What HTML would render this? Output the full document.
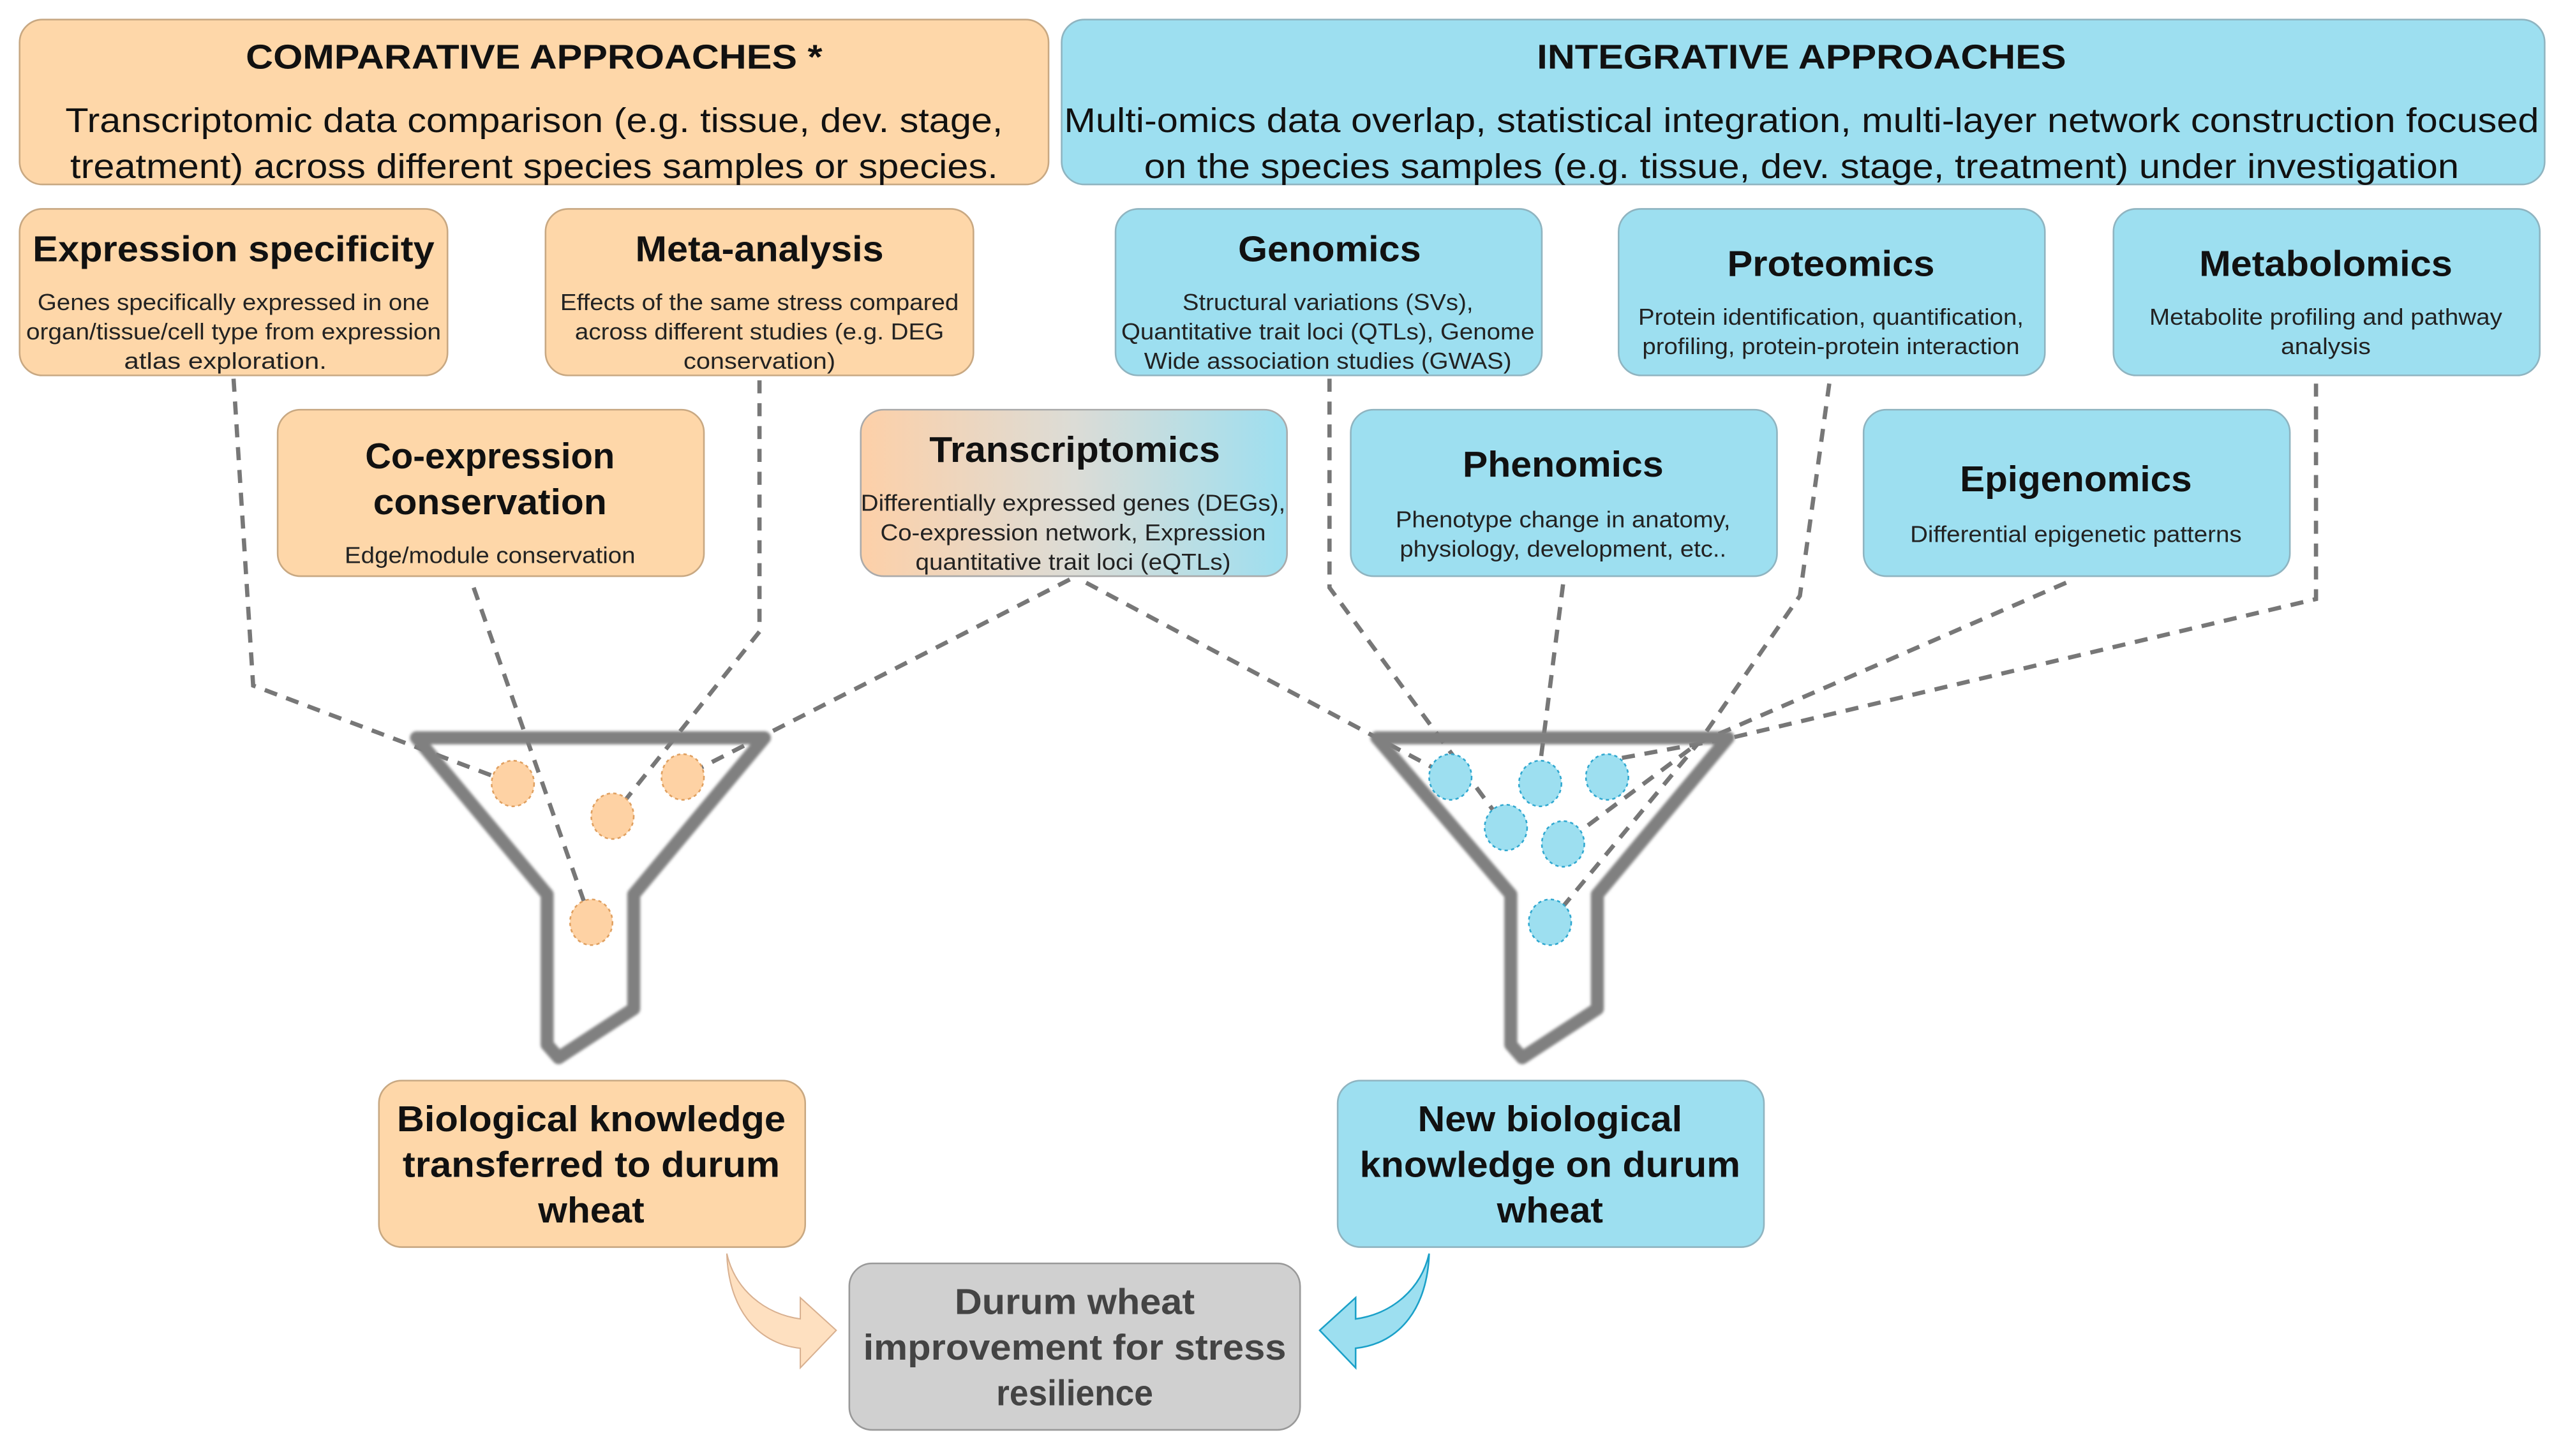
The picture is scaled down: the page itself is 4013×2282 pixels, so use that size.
<!DOCTYPE html>
<html><head><meta charset="utf-8"><style>
html,body{margin:0;padding:0;background:#fff;}
svg{display:block;}
text{font-family:"Liberation Sans",sans-serif;text-anchor:middle;fill:#111;}
.t{font-weight:bold;font-size:22px;}
.h{font-weight:bold;font-size:21px;}
.s{font-size:21px;}
.d{font-size:14px;fill:#222;}
.dl{fill:none;stroke:#777;stroke-width:2.6;stroke-dasharray:8 6;}
</style></head><body>
<svg width="4013" height="2282" viewBox="0 0 1568 892" preserveAspectRatio="none" xmlns="http://www.w3.org/2000/svg">
<defs>
<linearGradient id="g" x1="0" x2="1" y1="0" y2="0"><stop offset="0" stop-color="#fdd0a8"/><stop offset="0.5" stop-color="#dcdcd6"/><stop offset="1" stop-color="#9ddff0"/></linearGradient>
<filter id="b"><feGaussianBlur stdDeviation="0.8"/></filter>
</defs>
<g stroke-width="1">
<rect x="12" y="12" width="630" height="101" rx="14" fill="#fed7a9" stroke="#c8a882"/>
<rect x="650" y="12" width="908" height="101" rx="14" fill="#9ddff0" stroke="#8fb4c0"/>
<rect x="12" y="128" width="262" height="102" rx="14" fill="#fed7a9" stroke="#c8a882"/>
<rect x="334" y="128" width="262" height="102" rx="14" fill="#fed7a9" stroke="#c8a882"/>
<rect x="683" y="128" width="261" height="102" rx="14" fill="#9ddff0" stroke="#8fb4c0"/>
<rect x="991" y="128" width="261" height="102" rx="14" fill="#9ddff0" stroke="#8fb4c0"/>
<rect x="1294" y="128" width="261" height="102" rx="14" fill="#9ddff0" stroke="#8fb4c0"/>
<rect x="170" y="251" width="261" height="102" rx="14" fill="#fed7a9" stroke="#c8a882"/>
<rect x="527" y="251" width="261" height="102" rx="14" fill="url(#g)" stroke="#aaa"/>
<rect x="827" y="251" width="261" height="102" rx="14" fill="#9ddff0" stroke="#8fb4c0"/>
<rect x="1141" y="251" width="261" height="102" rx="14" fill="#9ddff0" stroke="#8fb4c0"/>
<rect x="232" y="662" width="261" height="102" rx="14" fill="#fed7a9" stroke="#c8a882"/>
<rect x="819" y="662" width="261" height="102" rx="14" fill="#9ddff0" stroke="#8fb4c0"/>
<rect x="520" y="774" width="276" height="102" rx="14" fill="#d0d0d0" stroke="#999"/>
</g>
<polyline class="dl" points="143,232 155,420 314,480"/>
<polyline class="dl" points="290,360 362,565"/>
<polyline class="dl" points="465,233 465,387 375,500"/>
<polyline class="dl" points="655,355 418,476"/>
<polyline class="dl" points="665,357 888,476"/>
<polyline class="dl" points="814,232 814,360 922,507"/>
<polyline class="dl" points="957,358 943,468"/>
<polyline class="dl" points="1120,235 1102,365 1040,455 949,565"/>
<polyline class="dl" points="1265,357 1040,455 957,517"/>
<polyline class="dl" points="1418,235 1418,367 1060,452 984,466"/>
<g fill="none" stroke="#808080" stroke-width="8" stroke-linejoin="round" filter="url(#b)">
<path d="M255,452 L468,452 L388,548 L388,618 L342,648 L335,640 L335,548 Z"/>
<path d="M843,452 L1058,452 L978,548 L978,618 L932,648 L925,640 L925,548 Z"/>
</g>
<g fill="#fed2a4" stroke="#e0a060" stroke-width="1" stroke-dasharray="2 2">
<ellipse cx="314" cy="480" rx="13" ry="14"/><ellipse cx="375" cy="500" rx="13" ry="14"/>
<ellipse cx="418" cy="476" rx="13" ry="14"/><ellipse cx="362" cy="565" rx="13" ry="14"/>
</g>
<g fill="#9ddff0" stroke="#30a8d0" stroke-width="1" stroke-dasharray="2 2">
<ellipse cx="888" cy="476" rx="13" ry="14"/><ellipse cx="943" cy="480" rx="13" ry="14"/>
<ellipse cx="984" cy="476" rx="13" ry="14"/><ellipse cx="922" cy="507" rx="13" ry="14"/>
<ellipse cx="957" cy="517" rx="13" ry="14"/><ellipse cx="949" cy="565" rx="13" ry="14"/>
</g>
<path d="M445,768 C446,800 462,823 490,826 L490,838 L512,815 L490,795 L490,808 C468,805 450,790 445,768 Z" fill="#fee0c0" stroke="#d8b090" stroke-width="0.8"/>
<path d="M875,768 C874,800 858,823 830,826 L830,838 L808,815 L830,795 L830,808 C852,805 870,790 875,768 Z" fill="#9ddff0" stroke="#1aa0c8" stroke-width="1"/>

<text class="h" x="327" y="42" textLength="353" lengthAdjust="spacingAndGlyphs">COMPARATIVE APPROACHES *</text>
<text class="s" x="327" y="81" textLength="574" lengthAdjust="spacingAndGlyphs">Transcriptomic data comparison (e.g. tissue, dev. stage,</text>
<text class="s" x="327" y="109" textLength="568" lengthAdjust="spacingAndGlyphs">treatment) across different species samples or species.</text>
<text class="h" x="1103" y="42" textLength="324" lengthAdjust="spacingAndGlyphs">INTEGRATIVE APPROACHES</text>
<text class="s" x="1103" y="81" textLength="903" lengthAdjust="spacingAndGlyphs">Multi-omics data overlap, statistical integration, multi-layer network construction focused</text>
<text class="s" x="1103" y="109" textLength="805" lengthAdjust="spacingAndGlyphs">on the species samples (e.g. tissue, dev. stage, treatment) under investigation</text>

<text class="t" x="143" y="160" textLength="246" lengthAdjust="spacingAndGlyphs">Expression specificity</text>
<text class="d" x="143" y="190" textLength="240" lengthAdjust="spacingAndGlyphs">Genes specifically expressed in one</text>
<text class="d" x="143" y="208" textLength="254" lengthAdjust="spacingAndGlyphs">organ/tissue/cell type from expression</text>
<text class="d" x="138" y="226" textLength="124" lengthAdjust="spacingAndGlyphs">atlas exploration.</text>

<text class="t" x="465" y="160" textLength="152" lengthAdjust="spacingAndGlyphs">Meta-analysis</text>
<text class="d" x="465" y="190" textLength="244" lengthAdjust="spacingAndGlyphs">Effects of the same stress compared</text>
<text class="d" x="465" y="208" textLength="226" lengthAdjust="spacingAndGlyphs">across different studies (e.g. DEG</text>
<text class="d" x="465" y="226" textLength="93" lengthAdjust="spacingAndGlyphs">conservation)</text>

<text class="t" x="814" y="160" textLength="112" lengthAdjust="spacingAndGlyphs">Genomics</text>
<text class="d" x="813" y="190" textLength="178" lengthAdjust="spacingAndGlyphs">Structural variations (SVs),</text>
<text class="d" x="813" y="208" textLength="253" lengthAdjust="spacingAndGlyphs">Quantitative trait loci (QTLs), Genome</text>
<text class="d" x="813" y="226" textLength="225" lengthAdjust="spacingAndGlyphs">Wide association studies (GWAS)</text>

<text class="t" x="1121" y="169" textLength="127" lengthAdjust="spacingAndGlyphs">Proteomics</text>
<text class="d" x="1121" y="199" textLength="236" lengthAdjust="spacingAndGlyphs">Protein identification, quantification,</text>
<text class="d" x="1121" y="217" textLength="231" lengthAdjust="spacingAndGlyphs">profiling, protein-protein interaction</text>

<text class="t" x="1424" y="169" textLength="155" lengthAdjust="spacingAndGlyphs">Metabolomics</text>
<text class="d" x="1424" y="199" textLength="216" lengthAdjust="spacingAndGlyphs">Metabolite profiling and pathway</text>
<text class="d" x="1424" y="217" textLength="55" lengthAdjust="spacingAndGlyphs">analysis</text>

<text class="t" x="300" y="287">Co-expression</text>
<text class="t" x="300" y="315" textLength="143" lengthAdjust="spacingAndGlyphs">conservation</text>
<text class="d" x="300" y="345" textLength="178" lengthAdjust="spacingAndGlyphs">Edge/module conservation</text>

<text class="t" x="658" y="283" textLength="178" lengthAdjust="spacingAndGlyphs">Transcriptomics</text>
<text class="d" x="657" y="313" textLength="260" lengthAdjust="spacingAndGlyphs">Differentially expressed genes (DEGs),</text>
<text class="d" x="657" y="331" textLength="236" lengthAdjust="spacingAndGlyphs">Co-expression network, Expression</text>
<text class="d" x="657" y="349" textLength="193" lengthAdjust="spacingAndGlyphs">quantitative trait loci (eQTLs)</text>

<text class="t" x="957" y="292" textLength="123" lengthAdjust="spacingAndGlyphs">Phenomics</text>
<text class="d" x="957" y="323" textLength="205" lengthAdjust="spacingAndGlyphs">Phenotype change in anatomy,</text>
<text class="d" x="957" y="341" textLength="200" lengthAdjust="spacingAndGlyphs">physiology, development, etc..</text>

<text class="t" x="1271" y="301" textLength="142" lengthAdjust="spacingAndGlyphs">Epigenomics</text>
<text class="d" x="1271" y="332" textLength="203" lengthAdjust="spacingAndGlyphs">Differential epigenetic patterns</text>

<text class="t" x="362" y="693" textLength="238" lengthAdjust="spacingAndGlyphs">Biological knowledge</text>
<text class="t" x="362" y="721" textLength="231" lengthAdjust="spacingAndGlyphs">transferred to durum</text>
<text class="t" x="362" y="749" textLength="65" lengthAdjust="spacingAndGlyphs">wheat</text>

<text class="t" x="949" y="693" textLength="162" lengthAdjust="spacingAndGlyphs">New biological</text>
<text class="t" x="949" y="721" textLength="233" lengthAdjust="spacingAndGlyphs">knowledge on durum</text>
<text class="t" x="949" y="749" textLength="65" lengthAdjust="spacingAndGlyphs">wheat</text>

<text class="t" x="658" y="805" textLength="147" lengthAdjust="spacingAndGlyphs" style="fill:#444">Durum wheat</text>
<text class="t" x="658" y="833" textLength="259" lengthAdjust="spacingAndGlyphs" style="fill:#444">improvement for stress</text>
<text class="t" x="658" y="861" textLength="96" lengthAdjust="spacingAndGlyphs" style="fill:#444">resilience</text>
</svg>
</body></html>
